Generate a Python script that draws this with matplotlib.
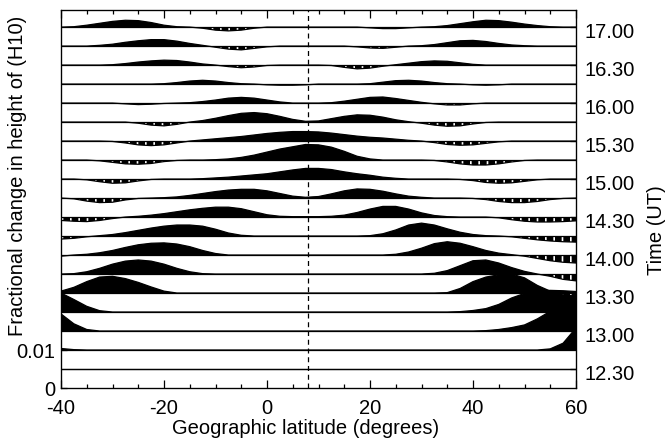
import numpy as np
import matplotlib.pyplot as plt
from matplotlib.transforms import ScaledTranslation

plt.rcParams['font.family'] = ['Liberation Sans', 'DejaVu Sans']
plt.rcParams['axes.unicode_minus'] = False
plt.rcParams['hatch.linewidth'] = 1.2
plt.rcParams['hatch.color'] = 'white'

# latitude grid of the read-off samples (degrees)
lat = np.arange(-40, 60.1, 2.5)

# fractional change in height, units of 1e-3, one profile every 15 min
h1230 = [0, 0, 0, 0, 0, 0, 0, 0, 0, 0,
         0, 0, 0, 0, 0, 0, 0, 0, 0, 0,
         0, 0, 0, 0, 0, 0, 0, 0, 0, 0,
         0, 0, 0, 0, 0, 0, 0, 0, 0, 0, 0]
h1245 = [0.4, 0.1, 0, 0, 0, 0, 0, 0, 0, 0,
         0, 0, 0, 0, 0, 0, 0, 0, 0, 0,
         0, 0, 0, 0, 0, 0, 0, 0, 0, 0,
         0, 0, 0, 0, 0, 0, 0, 0, 0.3, 1.8, 5.8]
h1300 = [4.5, 1.9, 0.4, 0, 0, 0, 0, 0, 0, 0,
         0, 0, 0, 0, 0, 0, 0, 0, 0, 0,
         0, 0, 0, 0, 0, 0, 0, 0, 0, 0,
         0, 0, 0, 0.1, 0.4, 0.9, 1.6, 3.2, 5.2, 6.5, 7.0]
h1315 = [5.0, 3.3, 1.5, 0.35, 0, 0, 0, 0, 0, 0,
         0, 0, 0, 0, 0, 0, 0, 0, 0, 0,
         0, 0, 0, 0, 0, 0, 0, 0, 0, 0,
         0, 0.1, 0.4, 0.9, 2.0, 3.7, 4.9, 5.5, 5.7, 5.6, 5.4]
h1330 = [0.5, 1.5, 3.0, 4.2, 4.4, 3.8, 2.8, 1.6, 0.5, 0,
         0, 0, 0, 0, 0, 0, 0, 0, 0, 0,
         0, 0, 0, 0, 0, 0, 0, 0, 0, 0,
         0.1, 1.2, 3.0, 4.2, 4.8, 5.0, 4.0, 2.0, 0.5, -0.5, -0.8]
h1345 = [0, 0.1, 0.6, 1.5, 2.6, 3.4, 3.7, 3.4, 2.6, 1.5,
         0.6, 0.1, 0, 0, 0, 0, 0, 0, 0, 0,
         0, 0, 0, 0, 0, 0, 0, 0, 0, 0.2,
         0.9, 2.2, 3.5, 3.7, 2.9, 1.7, 0.7, 0, -0.6, -1.4, -1.8]
h1400 = [-0.3, 0, 0.2, 0.6, 1.2, 2.0, 2.7, 3.1, 3.2, 2.9,
         2.2, 1.2, 0.4, 0, 0, 0, 0, 0, 0, 0,
         0, 0, 0, 0, 0, 0, 0.2, 0.8, 1.8, 3.0,
         3.5, 3.1, 2.2, 1.2, 0.5, 0.1, -0.3, -0.9, -1.5, -1.9, -2.1]
h1415 = [-0.8, -0.6, -0.2, 0.1, 0.4, 0.9, 1.5, 2.1, 2.6, 2.9,
         2.9, 2.6, 1.8, 0.8, 0.2, 0, 0, 0, 0, 0,
         0, 0, 0, 0, 0.1, 0.6, 1.6, 2.9, 3.4, 2.9,
         1.9, 1.0, 0.4, 0.1, 0, -0.2, -0.6, -1.0, -1.3, -1.5, -1.6]
h1430 = [-0.9, -1.1, -1.2, -0.9, -0.4, 0, 0.2, 0.5, 0.9, 1.4,
         1.9, 2.3, 2.6, 2.6, 2.2, 1.4, 0.6, 0.2, 0.1, 0.1,
         0.1, 0.2, 0.5, 1.2, 2.1, 2.8, 2.8, 2.1, 1.1, 0.4,
         0.1, 0, 0, 0, -0.2, -0.7, -1.1, -1.3, -1.3, -1.2, -1.0]
h1445 = [0, -0.2, -0.8, -1.2, -1.1, -0.5, -0.1, 0, 0.1, 0.3,
         0.7, 1.2, 1.7, 2.1, 2.3, 2.3, 1.9, 1.2, 0.5, 0.2,
         0.4, 1.1, 1.9, 2.4, 2.3, 1.8, 1.1, 0.5, 0.2, 0,
         0, 0, -0.1, -0.4, -0.9, -1.2, -1.2, -0.9, -0.4, -0.1, 0]
h1500 = [0, 0, -0.2, -0.7, -1.1, -1.0, -0.5, -0.1, 0, 0,
         0, 0.1, 0.3, 0.5, 0.8, 1.1, 1.4, 1.9, 2.4, 2.8,
         2.8, 2.5, 1.9, 1.4, 1.0, 0.5, 0.2, 0, 0, 0,
         0, -0.1, -0.4, -0.9, -1.1, -1.0, -0.6, -0.2, 0, 0, 0]
h1515 = [0, 0, 0, -0.2, -0.6, -1.0, -1.1, -0.9, -0.4, -0.1,
         0, 0, 0.1, 0.3, 0.7, 1.3, 2.1, 2.9, 3.5, 4.1,
         4.0, 3.4, 2.3, 1.0, 0.3, 0, 0, 0, 0, -0.1,
         -0.5, -1.0, -1.3, -1.3, -1.0, -0.5, -0.1, 0, 0, 0, 0]
h1530 = [0, 0, 0, 0, -0.1, -0.5, -1.0, -1.2, -1.0, -0.5,
         0, 0.3, 0.6, 0.9, 1.2, 1.6, 2.0, 2.3, 2.5, 2.5,
         2.4, 2.1, 1.7, 1.3, 1.0, 0.8, 0.5, 0.2, 0, -0.4,
         -0.9, -1.1, -1.0, -0.6, -0.2, 0, 0, 0, 0, 0, 0]
h1545 = [0, 0, 0, 0, 0, 0, -0.3, -0.8, -1.0, -0.6,
         0, 0.4, 1.0, 1.7, 2.3, 2.5, 2.2, 1.5, 0.7, 0.2,
         0.3, 0.9, 1.5, 1.9, 1.8, 1.3, 0.6, 0.1, -0.3, -0.8,
         -1.1, -1.0, -0.5, -0.1, 0, 0, 0, 0, 0, 0, 0]
h1600 = [0, 0, 0, 0, 0, -0.2, -0.4, -0.3, -0.1, 0,
         0.1, 0.4, 0.8, 1.3, 1.5, 1.3, 0.8, 0.3, 0, 0,
         0, 0.1, 0.5, 1.0, 1.5, 1.6, 1.2, 0.7, 0.2, -0.2,
         -0.5, -0.5, -0.2, 0, 0, 0, 0, 0, 0, 0, 0]
h1615 = [0, 0, 0, 0, 0, 0, 0, 0, 0.1, 0.4,
         0.8, 1.0, 0.8, 0.4, 0.1, 0, -0.2, -0.3, -0.3, -0.2,
         0, 0, 0, 0, 0.1, 0.5, 0.9, 1.0, 0.8, 0.4,
         0.1, 0, -0.2, -0.3, -0.2, 0, 0, 0, 0, 0, 0]
h1630 = [0, 0, 0, 0, 0.1, 0.4, 0.8, 1.1, 1.3, 1.2,
         0.8, 0.3, 0, -0.4, -0.7, -0.5, -0.1, 0, 0, 0,
         0, -0.1, -0.6, -1.0, -0.8, -0.3, 0.1, 0.5, 0.9, 1.1,
         1.0, 0.6, 0.2, 0, 0, 0, 0, 0, 0, 0, 0]
h1645 = [0, 0, 0, 0.2, 0.5, 1.0, 1.4, 1.7, 1.7, 1.3,
         0.7, 0.2, -0.3, -0.8, -1.0, -0.6, -0.2, 0, 0, 0,
         0, 0, 0, -0.2, -0.5, -0.6, -0.3, 0, 0.1, 0.4,
         0.9, 1.4, 1.5, 1.2, 0.7, 0.3, 0.1, 0, 0, 0, 0]
h1700 = [0, 0.1, 0.5, 1.0, 1.5, 1.8, 1.7, 1.2, 0.5, 0.1,
         0, -0.3, -0.8, -1.0, -0.8, -0.3, 0, 0, 0, 0,
         0, 0, 0, 0, -0.2, -0.4, -0.4, -0.2, 0, 0.1,
         0.4, 0.9, 1.4, 1.8, 1.7, 1.3, 0.8, 0.4, 0.1, 0, 0]

profiles = [h1230, h1245, h1300, h1315, h1330, h1345, h1400, h1415, h1430,
            h1445, h1500, h1515, h1530, h1545, h1600, h1615, h1630, h1645, h1700]
time_labels = ['12.30', '13.00', '13.30', '14.00', '14.30',
               '15.00', '15.30', '16.00', '16.30', '17.00']
step = 0.005      # vertical offset between successive profiles
ref_lat = 8       # dashed reference latitude

fig = plt.figure(figsize=(6.71, 4.41), dpi=100)
ax = fig.add_axes([61 / 671, 53 / 441, 515 / 671, 378 / 441])

for k, prof in enumerate(profiles):
    base = step * (k + 1)
    y = base + np.array(prof) * 1e-3
    z = 2 + 3 * k
    ax.fill_between(lat, base, y, where=y >= base, interpolate=True,
                    facecolor='black', lw=0, zorder=z)
    ax.fill_between(lat, base, y, where=y <= base, interpolate=True,
                    facecolor='black', edgecolor='white', hatch='||',
                    lw=0, zorder=z + 1)
    ax.axhline(base, color='black', lw=0.9, zorder=z + 2)
    ax.plot(lat, y, color='black', lw=0.9, zorder=z + 2)

ax.axvline(ref_lat, color='black', lw=0.9, ls=(0, (4, 3)), zorder=200)

ax.set_xlim(-40, 60)
ax.set_ylim(0, 0.0995)
ax.set_xticks([-40, -20, 0, 20, 40, 60])
ax.set_xticks(np.arange(-40, 61, 5), minor=True)
ax.set_yticks([0, 0.01])
ax.set_yticklabels(['0', '0.01'])
ax.tick_params(axis='x', which='both', direction='in', top=True,
               labelsize=14.5, pad=8)
ax.tick_params(axis='x', which='major', length=6, width=0.9)
ax.tick_params(axis='x', which='minor', length=3, width=0.9)
ax.tick_params(axis='y', direction='in', length=4, width=0.9,
               labelsize=14.5, pad=4)
for s in ax.spines.values():
    s.set_linewidth(0.9)
    s.set_zorder(300)

ax2 = ax.twinx()
ax2.set_ylim(ax.get_ylim())
ax2.set_yticks([step * (2 * i + 1) for i in range(len(time_labels))])
ax2.set_yticklabels(time_labels)
ax2.tick_params(axis='y', direction='in', length=4, width=0.9,
                labelsize=14.5, pad=6)
shift = ScaledTranslation(0, -0.03, fig.dpi_scale_trans)
for lab in ax2.get_yticklabels():
    lab.set_transform(lab.get_transform() + shift)

fig.text(306 / 671, 1 - 428 / 441, 'Geographic latitude (degrees)',
         ha='center', va='center', fontsize=14.5)
fig.text(18 / 671, 1 - 176 / 441, 'Fractional change in height of (H10)',
         ha='center', va='center', rotation=90, fontsize=14.5)
fig.text(657 / 671, 1 - 230 / 441, 'Time (UT)',
         ha='center', va='center', rotation=90, fontsize=14.5)

fig.savefig('out.png', dpi=100, facecolor='white')
